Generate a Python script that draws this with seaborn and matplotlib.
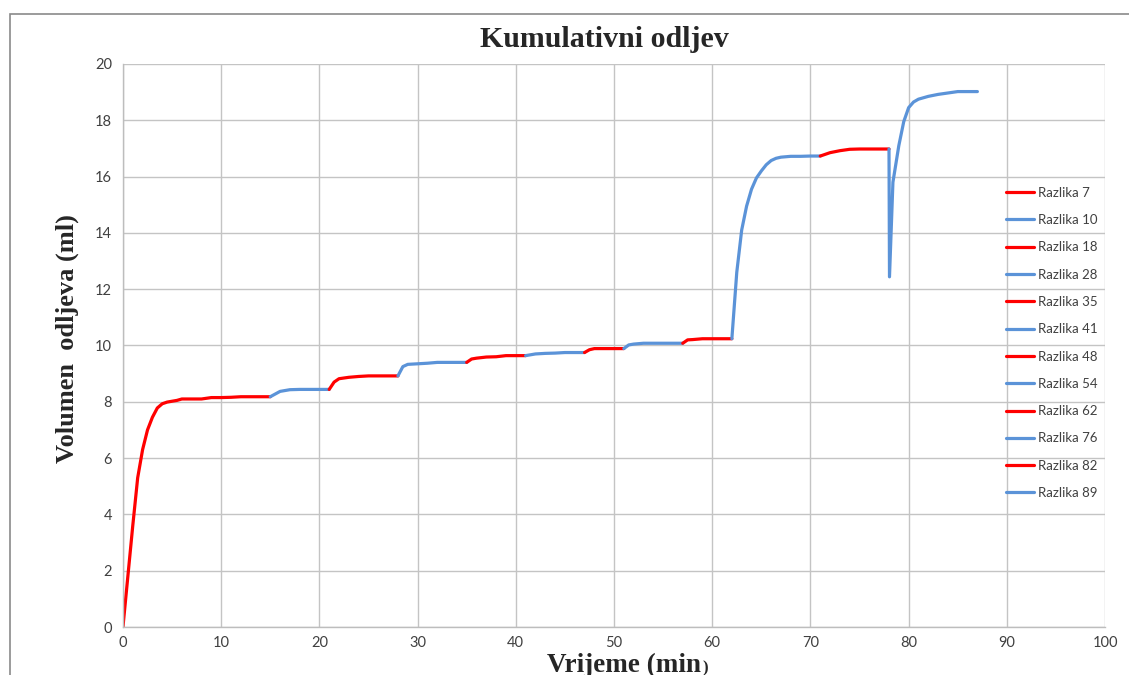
import seaborn as sns
import matplotlib.pyplot as plt
import matplotlib.patches as patches
import pandas as pd

# Podaci po serijama (vrijeme u min, volumen u ml)
t_7 = [0, 0.5, 1, 1.5, 2, 2.5, 3, 3.5, 4, 4.5, 5, 5.5, 6, 7, 8, 9, 10, 11, 12, 13, 14, 15]
v_7 = [0, 1.8, 3.6, 5.3, 6.3, 7.0, 7.45, 7.78, 7.93, 7.99, 8.02, 8.05, 8.1, 8.1, 8.1, 8.15, 8.15, 8.16, 8.18, 8.18, 8.18, 8.18]
t_10 = [15, 16, 17, 18, 19, 20, 21]
v_10 = [8.18, 8.37, 8.43, 8.44, 8.44, 8.44, 8.44]
t_18 = [21, 21.5, 22, 23, 24, 25, 26, 27, 28]
v_18 = [8.44, 8.70, 8.82, 8.87, 8.90, 8.92, 8.92, 8.92, 8.92]
t_28 = [28, 28.5, 29, 30, 31, 32, 33, 34, 35]
v_28 = [8.92, 9.25, 9.33, 9.35, 9.37, 9.40, 9.40, 9.40, 9.40]
t_35 = [35, 35.5, 36, 37, 38, 39, 40, 41]
v_35 = [9.40, 9.52, 9.55, 9.59, 9.60, 9.64, 9.64, 9.64]
t_41 = [41, 42, 43, 44, 45, 46, 47]
v_41 = [9.64, 9.70, 9.72, 9.73, 9.75, 9.75, 9.75]
t_48 = [47, 47.5, 48, 49, 50, 51]
v_48 = [9.75, 9.85, 9.89, 9.89, 9.89, 9.89]
t_54 = [51, 51.5, 52, 53, 54, 55, 56, 57]
v_54 = [9.89, 10.02, 10.05, 10.08, 10.08, 10.08, 10.08, 10.08]
t_62 = [57, 57.5, 58, 59, 60, 61, 62]
v_62 = [10.08, 10.20, 10.21, 10.24, 10.24, 10.24, 10.24]
t_76 = [62, 62.5, 63, 63.5, 64, 64.5, 65, 65.5, 66, 66.5, 67, 68, 69, 70, 71]
v_76 = [10.24, 12.6, 14.1, 14.95, 15.55, 15.95, 16.2, 16.42, 16.57, 16.65, 16.69, 16.72, 16.72, 16.73, 16.73]
t_82 = [71, 72, 73, 74, 75, 76, 77, 78]
v_82 = [16.73, 16.85, 16.92, 16.97, 16.98, 16.98, 16.98, 16.98]
t_89 = [78, 78.05, 78.4, 79, 79.5, 80, 80.5, 81, 82, 83, 84, 85, 86, 87]
v_89 = [16.98, 12.44, 15.8, 17.1, 17.95, 18.45, 18.65, 18.75, 18.85, 18.92, 18.97, 19.02, 19.02, 19.02]

serije = ['Razlika 7', 'Razlika 10', 'Razlika 18', 'Razlika 28', 'Razlika 35', 'Razlika 41',
          'Razlika 48', 'Razlika 54', 'Razlika 62', 'Razlika 76', 'Razlika 82', 'Razlika 89']
vremena = [t_7, t_10, t_18, t_28, t_35, t_41, t_48, t_54, t_62, t_76, t_82, t_89]
volumeni = [v_7, v_10, v_18, v_28, v_35, v_41, v_48, v_54, v_62, v_76, v_82, v_89]

redovi = []
for ime, tt, vv in zip(serije, vremena, volumeni):
    for t, v in zip(tt, vv):
        redovi.append({'Vrijeme': t, 'Volumen': v, 'Serija': ime})
df = pd.DataFrame(redovi)

crvena = '#ff0000'
plava = '#5b93d8'
paleta = {ime: (crvena if i % 2 == 0 else plava) for i, ime in enumerate(serije)}

sns.set_style('white')
plt.rcParams['font.family'] = ['Lato', 'DejaVu Sans']

fig = plt.figure(figsize=(11.29, 6.75), dpi=100)
ax = fig.add_axes([0.1089, 0.0711, 0.8699, 0.8341])

sns.lineplot(data=df, x='Vrijeme', y='Volumen', hue='Serija', hue_order=serije,
             palette=paleta, estimator=None, sort=False, linewidth=2.3, ax=ax)

ax.set_xlim(0, 100)
ax.set_ylim(0, 20)
ax.set_xticks(range(0, 101, 10))
ax.set_yticks(range(0, 21, 2))
ax.grid(True, color='#c4c4c4', linewidth=1.0)
ax.set_axisbelow(True)
for s in ['top', 'right']:
    ax.spines[s].set_visible(False)
for s in ['left', 'bottom']:
    ax.spines[s].set_color('#bdbdbd')
    ax.spines[s].set_linewidth(1.0)
ax.tick_params(axis='both', direction='out', length=5, width=1, color='#bdbdbd',
               labelsize=10.5, labelcolor='#404040')
ax.tick_params(axis='y', pad=3)
ax.tick_params(axis='x', pad=1.5)
ax.set_xlabel('')
ax.set_ylabel('')

leg = ax.legend(loc='upper left', bbox_to_anchor=(0.8992, 0.782), frameon=False,
                fontsize=9.5, handlelength=2.15, handletextpad=0.25, labelspacing=1.16,
                borderaxespad=0, borderpad=0)
for txt in leg.get_texts():
    txt.set_color('#404040')

fig.text(0.535, 0.941, 'Kumulativni odljev', ha='center', va='center',
         family='Liberation Serif', weight='bold', size=21.5)
fig.text(0.060, 0.498, 'Volumen  odljeva (ml)', ha='center', va='center', rotation=90,
         family='Liberation Serif', weight='bold', size=19)
xl = fig.text(0.4845, 0.004, 'Vrijeme (min', ha='left', va='baseline',
              family='Liberation Serif', weight='bold', size=19.5)
fig.canvas.draw()
kraj = xl.get_window_extent().x1 / fig.bbox.width
fig.text(kraj + 0.001, 0.004, ')', ha='left', va='baseline',
         family='Liberation Serif', weight='bold', size=12)

fig.patches.append(patches.Rectangle((0.0085, -0.1), 2.0, 1.08, transform=fig.transFigure,
                                     fill=False, edgecolor='#8a8a8a', linewidth=1.2))

fig.savefig('out.png', dpi=100)
